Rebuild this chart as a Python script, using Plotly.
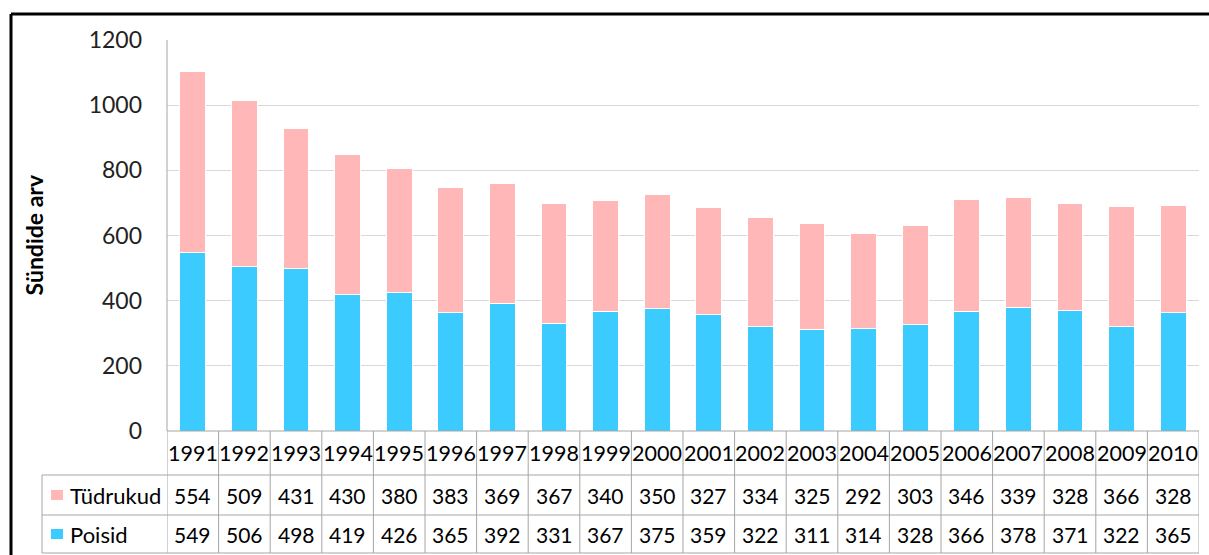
import plotly.graph_objects as go

years = [str(y) for y in range(1991, 2011)]
tudrukud = [554, 509, 431, 430, 380, 383, 369, 367, 340, 350, 327, 334, 325, 292, 303, 346, 339, 328, 366, 328]
poisid = [549, 506, 498, 419, 426, 365, 392, 331, 367, 375, 359, 322, 311, 314, 328, 366, 378, 371, 322, 365]
series_names = ["Tüdrukud", "Poisid"]
y_ticks = [0, 200, 400, 600, 800, 1000, 1200]

PINK = "#FFB7B7"
BLUE = "#3CCBFF"
FONT = "Lato"
GRID = "#D9D9D9"
TLINE = "#A6A6A6"

W, H = 1209, 555
L, R, T, B = 167, 10, 40, 124
pw, ph = W - L - R, H - T - B

def px(xp):
    return (xp - L) / pw

def py(yp):
    return (H - B - yp) / ph

fig = go.Figure()
fig.add_trace(go.Bar(x=years, y=poisid, name="Poisid", marker=dict(color=BLUE, line=dict(color="white", width=1))))
fig.add_trace(go.Bar(x=years, y=tudrukud, name="Tüdrukud", marker=dict(color=PINK, line=dict(color="white", width=1))))

shapes = []
annotations = []

y_axis = H - B      # 431
y_row1 = 475
y_row2 = 515
y_row3 = 553
x_label_left = 42

shapes.append(dict(type="line", xref="paper", yref="paper", x0=0, x1=1, y0=py(y_axis), y1=py(y_axis), line=dict(color=TLINE, width=1)))
for yy in [y_row1, y_row2, y_row3]:
    shapes.append(dict(type="line", xref="paper", yref="paper", x0=px(x_label_left), x1=1, y0=py(yy), y1=py(yy), line=dict(color=TLINE, width=1)))
shapes.append(dict(type="line", xref="paper", yref="paper", x0=px(x_label_left), x1=px(x_label_left), y0=py(y_row1), y1=py(y_row3), line=dict(color=TLINE, width=1)))
for i in range(len(years) + 1):
    shapes.append(dict(type="line", xref="x", yref="paper", x0=i - 0.5, x1=i - 0.5, y0=py(y_axis), y1=py(y_row3), line=dict(color=TLINE, width=1)))
shapes.append(dict(type="line", xref="paper", yref="paper", x0=0, x1=0, y0=0, y1=1, line=dict(color=TLINE, width=1)))
shapes.append(dict(type="line", xref="paper", yref="paper", x0=px(11), x1=px(W + 5), y0=py(14), y1=py(14), line=dict(color="black", width=3)))
shapes.append(dict(type="line", xref="paper", yref="paper", x0=px(11), x1=px(11), y0=py(14), y1=py(H + 5), line=dict(color="black", width=3)))

for yy0, yy1, col in [(y_row1, y_row2, PINK), (y_row2, y_row3, BLUE)]:
    cy = (yy0 + yy1) / 2
    shapes.append(dict(type="rect", xref="paper", yref="paper", x0=px(51), x1=px(63), y0=py(cy - 5), y1=py(cy + 5), fillcolor=col, line=dict(width=0)))

for yy0, yy1, name in [(y_row1, y_row2, series_names[0]), (y_row2, y_row3, series_names[1])]:
    cy = (yy0 + yy1) / 2
    annotations.append(dict(xref="paper", yref="paper", x=px(68), y=py(cy), text=name, showarrow=False, xanchor="left", yanchor="middle", font=dict(family=FONT, size=22, color="black")))

for i, yr in enumerate(years):
    annotations.append(dict(xref="x", yref="paper", x=i, y=py((y_axis + y_row1) / 2), text=yr, showarrow=False, xanchor="center", yanchor="middle", font=dict(family=FONT, size=21.5, color="black")))
    annotations.append(dict(xref="x", yref="paper", x=i, y=py((y_row1 + y_row2) / 2), text=str(tudrukud[i]), showarrow=False, xanchor="center", yanchor="middle", font=dict(family=FONT, size=21, color="black")))
    annotations.append(dict(xref="x", yref="paper", x=i, y=py((y_row2 + y_row3) / 2), text=str(poisid[i]), showarrow=False, xanchor="center", yanchor="middle", font=dict(family=FONT, size=21, color="black")))

annotations.append(dict(xref="paper", yref="paper", x=px(33), y=0.5, text="<b>Sündide arv</b>", textangle=-90, showarrow=False, xanchor="center", yanchor="middle", font=dict(family=FONT, size=23, color="black")))

fig.update_layout(
    width=W, height=H,
    margin=dict(l=L, r=R, t=T, b=B),
    barmode="stack",
    bargap=0.5,
    showlegend=False,
    plot_bgcolor="white",
    paper_bgcolor="white",
    shapes=shapes,
    annotations=annotations,
    font=dict(family=FONT, color="black"),
)
fig.update_xaxes(type="category", range=[-0.5, len(years) - 0.5], showticklabels=False, showgrid=False, showline=False, zeroline=False, ticks="")
fig.update_yaxes(range=[0, 1200], tickvals=y_ticks, showgrid=True, gridcolor=GRID, gridwidth=1, zeroline=False, showline=False,
                 tickfont=dict(family=FONT, size=23, color="#222222"), ticklabelstandoff=24)

fig.write_html("out.html", config={"displayModeBar": False},
               post_script="document.body.style.margin='0';document.body.style.overflow='hidden';")
